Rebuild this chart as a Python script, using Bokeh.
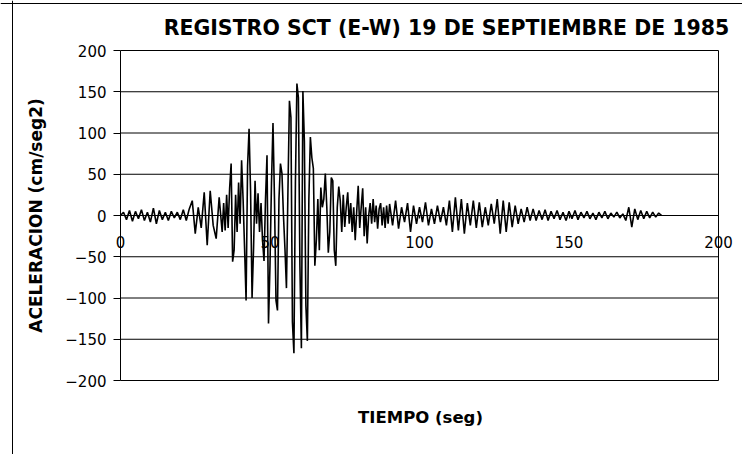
import numpy as np
from bokeh.plotting import figure
from bokeh.models import Label, FixedTicker, Range1d, Span
from bokeh.embed import file_html
from bokeh.resources import INLINE

# ---- data ----
title_text = "REGISTRO SCT (E-W) 19 DE SEPTIEMBRE DE 1985"
x_title = "TIEMPO (seg)"
y_title = "ACELERACION (cm/seg2)"
x_ticks = [0, 50, 100, 150, 200]
y_ticks = [-200, -150, -100, -50, 0, 50, 100, 150, 200]

# segment 1: t = 0 .. 33 s, every 1 s
seg1_start, seg1_step = 0.0, 1.0
seg1_acc = [
    0, 4, -5, 6, -7, 5, -4, 7, -6, 4,
    -8, 9, -10, 6, -5, 4, -6, 5, -3, 4,
    -5, 7, -6, 8, 18, -22, 10, -15, 28, -36,
    30, -12, -28, 22,
]
# segment 2: t = 34 .. 89.5 s, every 0.5 s (strong motion)
seg2_start, seg2_step = 34.0, 0.5
seg2_acc = [
    -20, 15, -18, 25, -15, 33, 63, -56, -42, 25,
    -20, 40, -10, 67, 20, -40, -103, 60, 105, 30,
    -100, -40, 42, -10, 27, -20, 15, -30, -55, 20,
    73, -131, -60, 40, 112, 20, -103, -115, 20, 63,
    51, 0, -40, -88, 30, 139, 119, -129, -167, 40,
    160, 143, -60, -161, 151, 90, -109, -152, 20, 95,
    70, 57, -61, -30, 20, -42, 34, 10, 20, 51,
    10, -45, -20, 46, 42, -42, -61, 10, 35, 18,
    -20, 25, -14, 10, 28, -10, 15, -20, 10, -30,
    5, 36, -15, 10, 33, -25, 10, -34, 0, 15,
    -10, 20, -8, 12, -16, 8, 15, -12, 10, -15,
    12, -10,
]
# segment 3: t = 90 .. 181 s, every 1 s
seg3_start, seg3_step = 90.0, 1.0
seg3_acc = [
    14, -12, 18, -16, 10, -8, 15, -20, 12, -10,
    10, -8, 16, -12, 8, -10, 12, -8, 10, -12,
    18, -20, 22, -18, 20, -22, 15, -12, 18, -15,
    16, -14, 10, -12, 14, -10, 20, -22, 18, -20,
    16, -14, 12, -10, 8, -8, 10, -6, 8, -6,
    6, -5, 7, -6, 5, -4, 6, -5, 4, -6,
    5, -4, 6, -5, 4, -3, 5, -4, 3, -5,
    4, -3, 5, -4, 3, -2, 4, -3, 2, -6,
    10, -14, 8, -5, 6, -4, 5, -3, 4, -2,
    3, 0,
]

t = np.concatenate([
    seg1_start + seg1_step * np.arange(len(seg1_acc)),
    seg2_start + seg2_step * np.arange(len(seg2_acc)),
    seg3_start + seg3_step * np.arange(len(seg3_acc)),
])
acc = np.array(seg1_acc + seg2_acc + seg3_acc, dtype=float)

# ---- layout: the frame covers the whole canvas ----
W, H = 742, 454
BOX_L, BOX_R, BOX_T, BOX_B = 120, 718, 50, 380          # plot box in pixels
sx = (BOX_R - BOX_L) / (x_ticks[-1] - x_ticks[0])        # px per second
sy = (BOX_B - BOX_T) / (y_ticks[-1] - y_ticks[0])        # px per cm/s2
y0px = BOX_T + y_ticks[-1] * sy
def px_to_x(px): return x_ticks[0] + (px - BOX_L) / sx
def px_to_y(py): return (y0px - py) / sy

FONT = "DejaVu Sans"

p = figure(width=W, height=H,
           x_range=Range1d(px_to_x(0), px_to_x(W)),
           y_range=Range1d(px_to_y(H), px_to_y(0)),
           output_backend="svg", toolbar_location=None,
           min_border=0, min_border_left=0, min_border_right=0,
           min_border_top=0, min_border_bottom=0,
           background_fill_color="white", border_fill_color="white")
p.outline_line_color = None
p.xgrid.visible = False
p.ygrid.visible = False

# outer chart frame (left and top edges)
p.add_layout(Span(location=px_to_x(12), dimension="height", line_color="black", line_width=1))
p.add_layout(Span(location=px_to_y(3), dimension="width", line_color="black", line_width=1))

# horizontal grid lines and right edge of the box
p.segment(x0=[x_ticks[0]] * len(y_ticks), x1=[x_ticks[-1]] * len(y_ticks),
          y0=y_ticks, y1=y_ticks, line_color="black", line_width=1)
p.segment(x0=[x_ticks[-1]], x1=[x_ticks[-1]], y0=[y_ticks[0]], y1=[y_ticks[-1]],
          line_color="black", line_width=1)

p.line(t, acc, line_color="black", line_width=1.6)

# x axis through zero
xa = p.xaxis[0]
xa.fixed_location = 0
xa.bounds = (x_ticks[0], x_ticks[-1])
xa.ticker = FixedTicker(ticks=x_ticks)
xa.minor_tick_line_color = None
xa.major_tick_in = 0
xa.major_tick_out = 3
xa.major_label_standoff = 17
xa.axis_line_color = "black"
xa.major_tick_line_color = "black"
xa.major_label_text_font = FONT
xa.major_label_text_font_size = "15px"
xa.major_label_text_color = "black"

# y axis on the left edge of the box
ya = p.yaxis[0]
ya.fixed_location = x_ticks[0]
ya.bounds = (y_ticks[0], y_ticks[-1])
ya.ticker = FixedTicker(ticks=y_ticks)
ya.minor_tick_line_color = None
ya.major_tick_in = 0
ya.major_tick_out = 7
ya.major_label_standoff = 7
ya.axis_line_color = "black"
ya.major_tick_line_color = "black"
ya.major_label_text_font = FONT
ya.major_label_text_font_size = "15px"
ya.major_label_text_color = "black"
ya.axis_label = y_title
ya.axis_label_text_font = FONT
ya.axis_label_text_font_size = "17px"
ya.axis_label_text_font_style = "bold"
ya.axis_label_text_color = "black"
ya.axis_label_standoff = 16

p.add_layout(Label(x=px_to_x(446), y=px_to_y(27), text=title_text, text_font=FONT,
                   text_font_size="20.5px", text_font_style="bold",
                   text_align="center", text_baseline="middle",
                   text_color="black"))
p.add_layout(Label(x=px_to_x(420), y=px_to_y(417), text=x_title, text_font=FONT,
                   text_font_size="16.5px", text_font_style="bold",
                   text_align="center", text_baseline="middle",
                   text_color="black"))

open("out.html", "w").write(file_html(p, INLINE))
